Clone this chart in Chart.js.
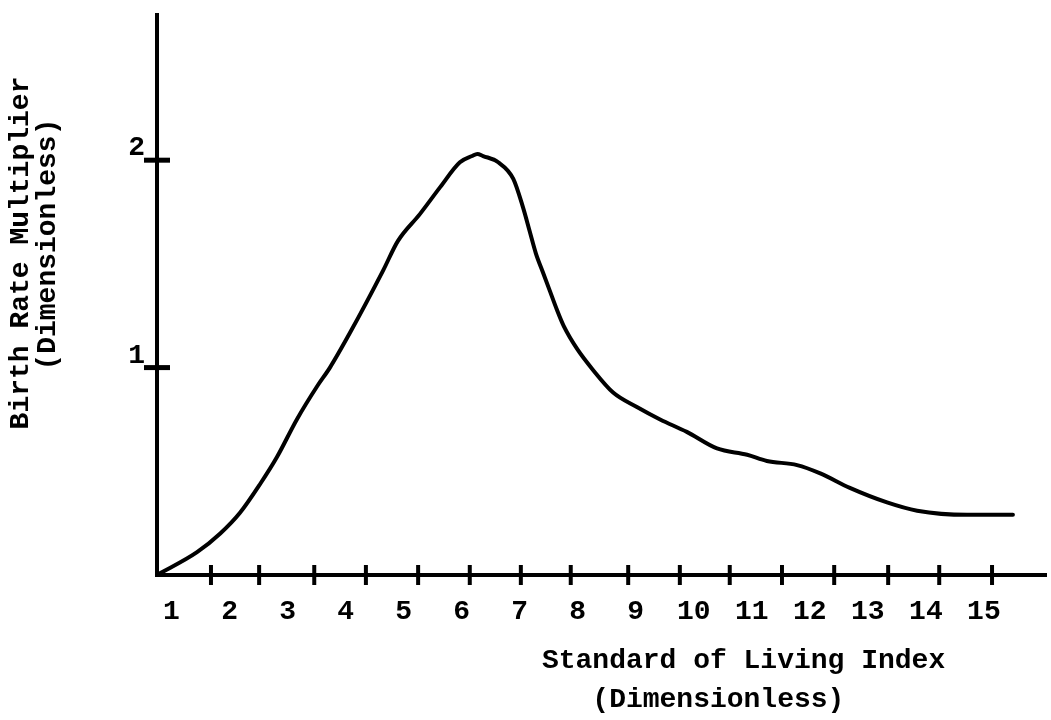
<!DOCTYPE html>
<html>
<head>
<meta charset="utf-8">
<script src="https://cdn.jsdelivr.net/npm/chart.js@4/dist/chart.umd.min.js"></script>
<style>
html, body { margin: 0; padding: 0; background: #ffffff; }
#wrap { width: 1051px; height: 720px; }
</style>
</head>
<body>
<div id="wrap"><canvas id="c" width="1051" height="720"></canvas></div>
<script>
// ---- data ----
const xTickLabels = [1, 2, 3, 4, 5, 6, 7, 8, 9, 10, 11, 12, 13, 14, 15];
const yTickLabels = [1, 2];
const xTickMarks = [1.68, 2.51, 3.46, 4.35, 5.25, 6.14, 7.02, 7.88, 8.87, 9.76, 10.62, 11.52, 12.42, 13.35, 14.23, 15.14];
const curveX = [0.75, 1.44, 1.84, 2.18, 2.53, 2.82, 3.16, 3.51, 3.73, 4.08, 4.65, 4.90, 5.28, 5.63, 5.97, 6.18, 6.27, 6.37, 6.63, 6.89, 7.06, 7.17, 7.28, 7.40, 7.52, 7.64, 7.76, 7.99, 8.26, 8.61, 9.02, 9.42, 9.88, 10.40, 10.92, 11.26, 11.78, 12.18, 12.69, 13.33, 13.85, 14.71, 15.50];
const curveY = [0.00, 0.11, 0.20, 0.30, 0.44, 0.57, 0.75, 0.91, 1.00, 1.17, 1.47, 1.61, 1.74, 1.87, 1.99, 2.02, 2.03, 2.02, 1.99, 1.91, 1.77, 1.66, 1.55, 1.46, 1.37, 1.28, 1.20, 1.09, 0.99, 0.88, 0.81, 0.75, 0.69, 0.61, 0.58, 0.55, 0.53, 0.49, 0.42, 0.35, 0.31, 0.29, 0.29];
const xTitle = ['Standard of Living Index      ', '(Dimensionless)            '];
const yTitle = ['     Birth Rate Multiplier', '      (Dimensionless)'];
const xMin = 0.75, xMax = 16.07, yMin = 0, yMax = 2.7;

const FONT = 'Liberation Mono';
const curve = curveX.map((x, i) => ({ x: x, y: curveY[i] }));

new Chart(document.getElementById('c').getContext('2d'), {
  type: 'scatter',
  data: {
    datasets: [
      {
        data: curve,
        showLine: true,
        borderColor: '#000',
        borderWidth: 4,
        pointRadius: 0,
        cubicInterpolationMode: 'monotone',
        fill: false,
        borderCapStyle: 'round',
        borderJoinStyle: 'round'
      },
      {
        data: xTickMarks.map(v => ({ x: v, y: 0 })),
        showLine: false,
        pointStyle: 'line',
        pointRotation: 90,
        pointRadius: 10,
        pointBorderWidth: 4,
        pointBorderColor: '#000',
        clip: false
      },
      {
        data: yTickLabels.map(v => ({ x: xMin, y: v })),
        showLine: false,
        pointStyle: 'line',
        pointRotation: 0,
        pointRadius: 13,
        pointBorderWidth: 5,
        pointBorderColor: '#000',
        clip: false
      }
    ]
  },
  options: {
    responsive: false,
    animation: false,
    events: [],
    layout: { autoPadding: false, padding: { left: 0, right: 5, top: 15, bottom: 0 } },
    plugins: { legend: { display: false }, tooltip: { enabled: false } },
    scales: {
      x: {
        type: 'linear',
        min: xMin,
        max: xMax,
        afterBuildTicks: s => { s.ticks = xTickLabels.map(v => ({ value: v })); },
        afterFit: s => { s.height = 145; s.paddingLeft = 0; s.paddingRight = 0; },
        grid: { display: false, drawTicks: false },
        border: { display: true, color: '#000', width: 4 },
        ticks: {
          color: '#000',
          autoSkip: false,
          maxRotation: 0,
          padding: 20,
          font: { family: FONT, weight: 'bold', size: 28 },
          callback: v => String(v)
        },
        title: {
          display: true,
          text: xTitle,
          align: 'end',
          color: '#000',
          font: { family: FONT, weight: 'bold', size: 28, lineHeight: 1.38 },
          padding: { top: 0, bottom: 1 }
        }
      },
      y: {
        type: 'linear',
        min: yMin,
        max: yMax,
        afterBuildTicks: s => { s.ticks = yTickLabels.map(v => ({ value: v })); },
        afterFit: s => { s.width = 157; s.paddingTop = 0; s.paddingBottom = 0; },
        grid: { display: false, drawTicks: false },
        border: { display: true, color: '#000', width: 4 },
        ticks: {
          color: '#000',
          padding: 12,
          labelOffset: -12,
          font: { family: FONT, weight: 'bold', size: 28 },
          callback: v => String(v)
        },
        title: {
          display: true,
          text: yTitle,
          align: 'center',
          color: '#000',
          font: { family: FONT, weight: 'bold', size: 28, lineHeight: 0.95 },
          padding: { top: 8, bottom: 0 }
        }
      }
    }
  }
});
</script>
</body>
</html>
